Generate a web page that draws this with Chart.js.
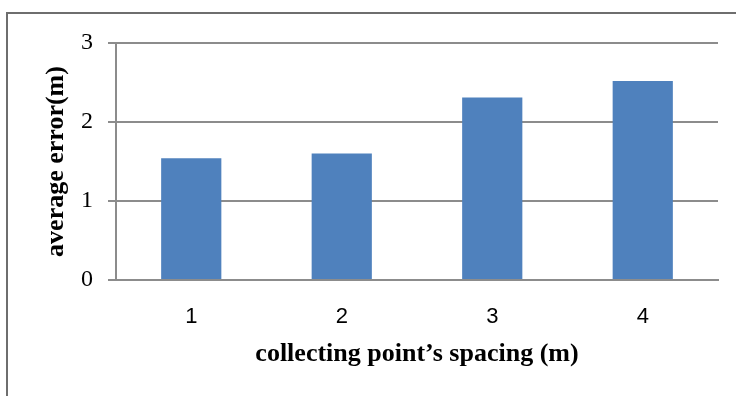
<!DOCTYPE html>
<html>
<head>
<meta charset="utf-8">
<script src="https://cdn.jsdelivr.net/npm/chart.js@4"></script>
<style>
  html, body { margin: 0; padding: 0; background: #fff; }
  #wrap { position: relative; width: 736px; height: 396px; overflow: hidden; }
  #frame { position: absolute; left: 6px; top: 12px; width: 800px; height: 500px; border: 2px solid #6e6e6e; }
  #graf { position: absolute; left: 0; top: 0; }
</style>
</head>
<body>
<div id="wrap">
  <div id="frame"></div>
  <canvas id="graf" width="736" height="396"></canvas>
</div>
<script>
let categories = ["1", "2", "3", "4"]
let avgError = [1.54, 1.60, 2.31, 2.52]
let yTicks = [0, 1, 2, 3]

const graph = document.getElementById('graf');
const gridGray = "#8c8c8c"

new Chart(graph, {
  type: "bar",
  data: {
    labels: categories,
    datasets: [{
      backgroundColor: "#4f81bd",
      borderWidth: 0,
      categoryPercentage: 1.0,
      barPercentage: 0.4,
      data: avgError
    }]
  },
  options: {
    responsive: false,
    animation: false,
    layout: { padding: { left: 0, top: 43, right: 18, bottom: 0 } },
    plugins: {
      legend: { display: false },
      tooltip: { enabled: false }
    },
    scales: {
      x: {
        grid: { display: false },
        border: { color: gridGray, width: 2 },
        ticks: { color: "#000", padding: 16, font: { family: "Liberation Sans", size: 22 } },
        title: {
          display: true,
          text: "collecting point\u2019s spacing (m)",
          color: "#000",
          padding: { top: 0, bottom: 26 },
          font: { family: "Liberation Serif", size: 26, weight: "bold" }
        },
        afterFit: function(scale) { scale.height = 116 }
      },
      y: {
        min: 0,
        max: 3,
        afterBuildTicks: function(scale) { scale.ticks = yTicks.map(v => ({ value: v })) },
        grid: { color: gridGray, lineWidth: 2, tickLength: 8 },
        border: { color: gridGray, width: 2 },
        ticks: { color: "#000", padding: 15, font: { family: "Liberation Serif", size: 24 } },
        title: {
          display: true,
          text: "average error(m)",
          color: "#000",
          padding: { top: 41, bottom: 0 },
          font: { family: "Liberation Serif", size: 26, weight: "bold" }
        },
        afterFit: function(scale) { scale.width = 116 }
      }
    }
  }
});
</script>
</body>
</html>
